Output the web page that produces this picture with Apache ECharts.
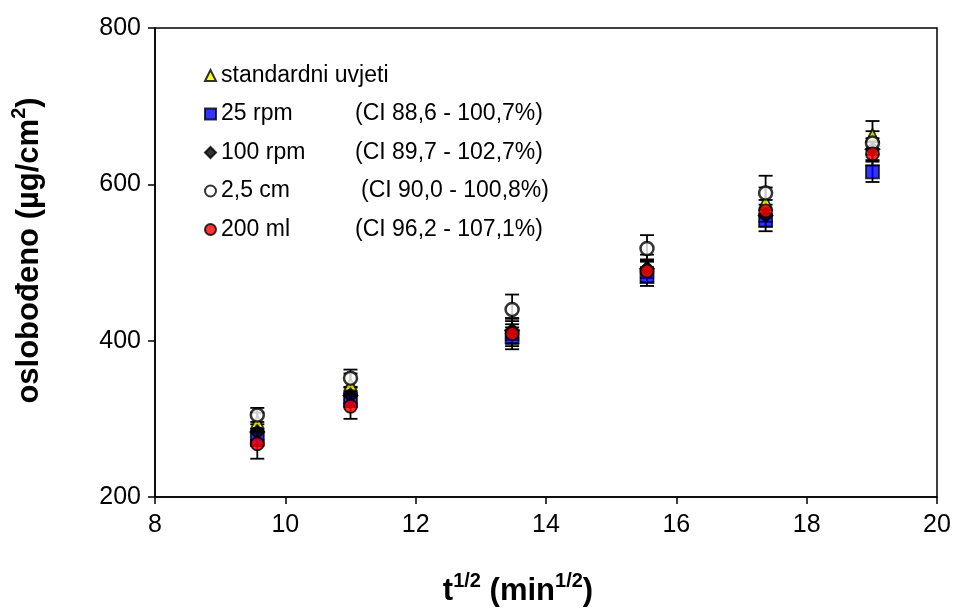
<!DOCTYPE html>
<html>
<head>
<meta charset="utf-8">
<script src="https://cdn.jsdelivr.net/npm/echarts@6/dist/echarts.min.js"></script>
<style>
    html, body { margin: 0; padding: 0; background: #fff; }
    #chart { width: 958px; height: 612px; }
</style>
</head>
<body>
<div id="chart"></div>
<script>
// t^(1/2) positions of the sampling points
const xVals = [9.57, 11.0, 13.48, 15.55, 17.37, 19.01]

// released amount (µg/cm2) and errors, per condition
const standardni = [296, 344, 412, 495, 578, 663]
const standardniErr = [12, 14, 16, 15, 18, 18]
const rpm25 = [275, 325, 405, 482, 554, 616]
const rpm25Err = [10, 10, 12, 12, 14, 13]
const rpm100 = [283, 330, 413, 492, 560, 645]
const rpm100Err = [10, 10, 12, 12, 14, 14]
const cm25 = [305, 352, 440, 518, 589, 653]
const cm25Err = [9, 11, 19, 17, 22, 15]
const ml200 = [268, 316, 409, 489, 566, 639]
const ml200Err = [19, 16, 20, 14, 14, 15]

const names = ['standardni uvjeti', '25 rpm', '100 rpm', '2,5 cm', '200 ml']
const ciLabels = {
    '25 rpm': '(CI 88,6 - 100,7%)',
    '100 rpm': '(CI 89,7 - 102,7%)',
    '2,5 cm': '(CI 90,0 - 100,8%)',
    '200 ml': '(CI 96,2 - 107,1%)'
}

const font = 'Liberation Sans, Arial, sans-serif'

function pairs(ys) {
    return xVals.map((x, i) => [x, ys[i]])
}

const errData = []
;[[standardni, standardniErr], [rpm25, rpm25Err], [rpm100, rpm100Err], [cm25, cm25Err], [ml200, ml200Err]]
    .forEach(([ys, es]) => {
        ys.forEach((y, i) => errData.push([xVals[i], y - es[i], y + es[i]]))
    })

function renderErr(params, api) {
    const lo = api.coord([api.value(0), api.value(1)])
    const hi = api.coord([api.value(0), api.value(2)])
    const w = 7
    const style = { stroke: '#000', lineWidth: 1.8 }
    return {
        type: 'group',
        children: [
            { type: 'line', shape: { x1: lo[0], y1: lo[1], x2: hi[0], y2: hi[1] }, style },
            { type: 'line', shape: { x1: lo[0] - w, y1: lo[1], x2: lo[0] + w, y2: lo[1] }, style },
            { type: 'line', shape: { x1: hi[0] - w, y1: hi[1], x2: hi[0] + w, y2: hi[1] }, style }
        ]
    }
}

const chart = echarts.init(document.getElementById('chart'))

const markerBorder = { borderColor: '#000', borderWidth: 1.8 }
const txt = { fontFamily: font, fontSize: 23, color: '#000' }

chart.setOption({
    animation: false,
    backgroundColor: '#fff',
    textStyle: { fontFamily: font },
    grid: { left: 155, right: 21, top: 28, bottom: 114, show: true, borderColor: '#000', borderWidth: 1.5 },
    legend: {
        orient: 'vertical',
        left: 199,
        top: 59,
        itemGap: 15.5,
        itemWidth: 11,
        itemHeight: 11,
        data: names,
        formatter: function (name) {
            if (!ciLabels[name]) return name
            const key = name === '2,5 cm' ? 'b' : 'a'
            return '{' + key + '|' + name + '}' + ciLabels[name]
        },
        textStyle: Object.assign({
            rich: {
                a: Object.assign({ width: 134 }, txt),
                b: Object.assign({ width: 140 }, txt)
            }
        }, txt)
    },
    xAxis: {
        type: 'value',
        min: 8,
        max: 20,
        interval: 2,
        name: '{m|t}{s|1/2}{m| (min}{s|1/2}{m|)}',
        nameLocation: 'middle',
        nameGap: 74,
        nameTextStyle: {
            padding: [0, 56, 0, 0],
            rich: {
                m: { fontFamily: font, fontSize: 31, fontWeight: 'bold', color: '#000', lineHeight: 36, verticalAlign: 'bottom' },
                s: { fontFamily: font, fontSize: 20, fontWeight: 'bold', color: '#000', lineHeight: 36, verticalAlign: 'top' }
            }
        },
        axisLine: { lineStyle: { color: '#000', width: 1.5 } },
        axisTick: { inside: false, length: 7, lineStyle: { color: '#000', width: 1.5 } },
        axisLabel: { fontFamily: font, fontSize: 25, color: '#000', margin: 16 },
        splitLine: { show: false }
    },
    yAxis: {
        type: 'value',
        min: 200,
        max: 800,
        interval: 200,
        name: '{m|oslobođeno (µg/cm}{s|2}{m|)}',
        nameLocation: 'middle',
        nameGap: 110,
        nameRotate: 90,
        nameTextStyle: {
            padding: [0, 0, 0, 24],
            rich: {
                m: { fontFamily: font, fontSize: 31, fontWeight: 'bold', color: '#000', lineHeight: 36, verticalAlign: 'bottom' },
                s: { fontFamily: font, fontSize: 20, fontWeight: 'bold', color: '#000', lineHeight: 36, verticalAlign: 'top' }
            }
        },
        axisLine: { show: true, lineStyle: { color: '#000', width: 1.5 } },
        axisTick: { show: true, inside: false, length: 7, lineStyle: { color: '#000', width: 1.5 } },
        axisLabel: { fontFamily: font, fontSize: 25, color: '#000', margin: 14 },
        splitLine: { show: false }
    },
    series: [
        {
            type: 'custom',
            name: 'err',
            renderItem: renderErr,
            data: errData,
            z: 1,
            silent: true
        },
        {
            name: 'standardni uvjeti',
            type: 'scatter',
            symbol: 'triangle',
            symbolSize: 12,
            itemStyle: Object.assign({ color: '#ffff00' }, markerBorder),
            data: pairs(standardni),
            z: 2
        },
        {
            name: '25 rpm',
            type: 'scatter',
            symbol: 'rect',
            symbolSize: 13,
            itemStyle: Object.assign({ color: '#0000ff' }, markerBorder),
            data: pairs(rpm25),
            z: 3
        },
        {
            name: '100 rpm',
            type: 'scatter',
            symbol: 'diamond',
            symbolSize: 14,
            itemStyle: Object.assign({ color: '#000' }, markerBorder),
            data: pairs(rpm100),
            z: 4
        },
        {
            name: '2,5 cm',
            type: 'scatter',
            symbol: 'circle',
            symbolSize: 13,
            itemStyle: { color: '#fff', borderColor: '#000', borderWidth: 2.5 },
            data: pairs(cm25),
            z: 5
        },
        {
            name: '200 ml',
            type: 'scatter',
            symbol: 'circle',
            symbolSize: 13,
            itemStyle: Object.assign({ color: '#ff0000' }, markerBorder),
            data: pairs(ml200),
            z: 6
        }
    ]
})
</script>
</body>
</html>
